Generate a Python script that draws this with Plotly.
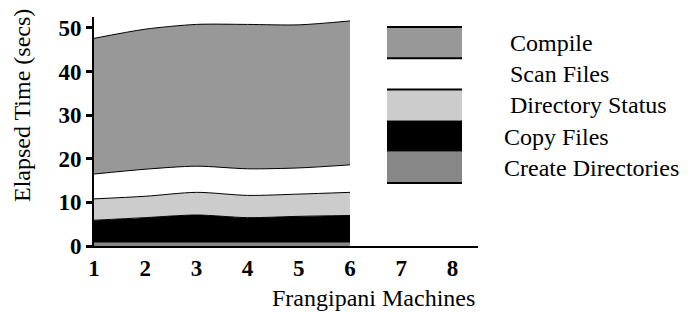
import plotly.graph_objects as go

# ---------------- data ----------------
machines = [1, 2, 3, 4, 5, 6]
create_dirs = [0.7, 0.7, 0.7, 0.7, 0.7, 0.7]
copy_files = [5.2, 5.8, 6.4, 5.8, 6.1, 6.3]
dir_status = [4.9, 4.9, 5.2, 5.1, 5.1, 5.3]
scan_files = [5.7, 6.2, 6.0, 6.1, 6.0, 6.3]
compile_t = [31.1, 32.1, 32.5, 33.1, 32.8, 33.0]

x_ticks = [1, 2, 3, 4, 5, 6, 7, 8]
y_ticks = [0, 10, 20, 30, 40, 50]

series_names = ["Create Directories", "Copy Files", "Directory Status", "Scan Files", "Compile"]
series_values = [create_dirs, copy_files, dir_status, scan_files, compile_t]
fill_colors = ["#878787", "#000000", "#cccccc", "#ffffff", "#989898"]
line_colors = ["#878787", "#000000", "#000000", "#000000", "#000000"]

# ---------------- layout geometry (page pixels) ----------------
OFF = 8                      # default page margin of the html body
PAGE_W, PAGE_H = 691, 312
W, H = PAGE_W - OFF, PAGE_H - OFF
PLOT_L, PLOT_R, PLOT_T, PLOT_B = 94, 478, 17, 246   # plot area on the page
L, T = PLOT_L - OFF, PLOT_T - OFF
R, B = W - (PLOT_R - OFF), H - (PLOT_B - OFF)
PW, PH = PLOT_R - PLOT_L, PLOT_B - PLOT_T
FONT = "Liberation Serif, Times New Roman, Times, serif"


def px(xp):
    return (xp - PLOT_L) / PW


def py(yp):
    return (PLOT_B - yp) / PH


fig = go.Figure()
for name, vals, fc, lc in zip(series_names, series_values, fill_colors, line_colors):
    fig.add_trace(go.Scatter(
        x=machines, y=vals, name=name, mode="lines", stackgroup="one",
        fillcolor=fc, line=dict(color=lc, width=1, shape="spline", smoothing=0.8),
        showlegend=False, hoverinfo="skip"))

axis_common = dict(showgrid=False, zeroline=False)
XR, YR = [1, 8.5], [0, 52.5]
fig.update_layout(
    width=W, height=H, margin=dict(l=L, r=R, t=T, b=B, autoexpand=False),
    paper_bgcolor="white", plot_bgcolor="white",
    font=dict(family=FONT, color="black", size=22),
    xaxis=dict(range=XR, tickvals=x_ticks, ticks="", showline=True, linecolor="black",
               linewidth=2, automargin=False,
               tickfont=dict(family=FONT, size=23, color="black", weight="bold"),
               **axis_common),
    xaxis2=dict(range=XR, overlaying="x", anchor="y", side="bottom",
                tickvals=x_ticks, ticks="outside", ticklen=5, tickwidth=2,
                tickcolor="black", showticklabels=False, showline=False, **axis_common),
    xaxis3=dict(range=XR, overlaying="x", anchor="y", side="bottom",
                tickvals=x_ticks[6:], ticks="inside", ticklen=23, tickwidth=2,
                tickcolor="black", showticklabels=False, showline=False, **axis_common),
    yaxis=dict(range=YR, tickvals=y_ticks, ticks="outside", ticklen=6, tickwidth=2.5,
               tickcolor="black", showline=True, linecolor="black", linewidth=2,
               automargin=False,
               tickfont=dict(family=FONT, size=23, color="black", weight="bold"),
               **axis_common),
    yaxis2=dict(range=YR, overlaying="y", anchor="x", side="left",
                tickvals=y_ticks, ticks="inside", ticklen=24, tickwidth=2.5,
                tickcolor="black", showticklabels=False, showline=False, **axis_common),
)

# axis titles
fig.add_annotation(text="Frangipani Machines", xref="paper", yref="paper",
                   x=px(373), y=py(298), xanchor="center", yanchor="middle",
                   showarrow=False, font=dict(family=FONT, size=24, color="black"))
fig.add_annotation(text="Elapsed Time (secs)", xref="paper", yref="paper",
                   x=px(22), y=py(106), xanchor="center", yanchor="middle",
                   showarrow=False, textangle=-90,
                   font=dict(family=FONT, size=24, color="black"))

# custom legend (top to bottom: Compile ... Create Directories)
leg_x0, leg_x1 = 387, 462
row_top0, row_h = 27, 31.2
legend_order = list(range(len(series_names)))[::-1]
text_x = [508, 508, 508, 502, 502]
for i, idx in enumerate(legend_order):
    top = row_top0 + i * row_h
    bot = top + row_h
    fig.add_shape(type="rect", xref="paper", yref="paper",
                  x0=px(leg_x0), x1=px(leg_x1), y0=py(bot), y1=py(top),
                  fillcolor=fill_colors[idx], line=dict(width=0), layer="above")
    if line_colors[idx] == "#000000" and fill_colors[idx] != "#000000":
        fig.add_shape(type="line", xref="paper", yref="paper",
                      x0=px(leg_x0), x1=px(leg_x1), y0=py(top), y1=py(top),
                      line=dict(color="black", width=2), layer="above")
    fig.add_annotation(text=series_names[idx], xref="paper", yref="paper",
                       x=px(text_x[i]), y=py(top + 16), xanchor="left", yanchor="middle",
                       showarrow=False, font=dict(family=FONT, size=24, color="black"))
last_bot = row_top0 + len(series_names) * row_h
fig.add_shape(type="line", xref="paper", yref="paper",
              x0=px(leg_x0), x1=px(leg_x1), y0=py(last_bot), y1=py(last_bot),
              line=dict(color="black", width=2), layer="above")

fig.write_html("out.html")
